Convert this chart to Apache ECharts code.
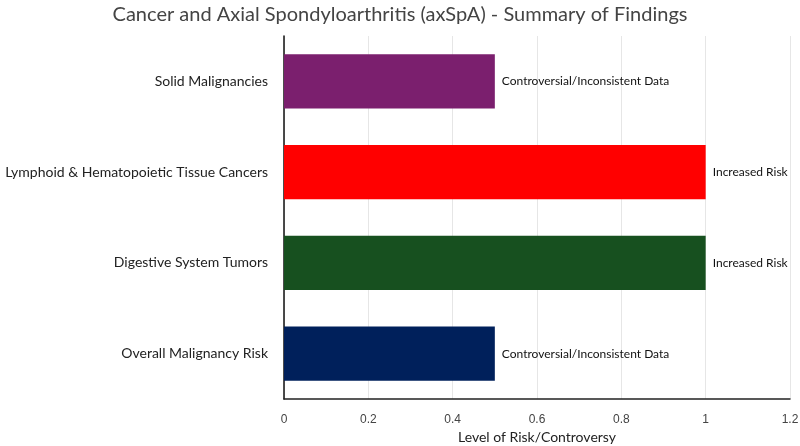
<!DOCTYPE html>
<html><head><meta charset="utf-8">
<script src="https://cdn.jsdelivr.net/npm/echarts@6/dist/echarts.min.js"></script>
<style>html,body{margin:0;padding:0;background:#fff}#c{width:800px;height:446px}</style>
</head><body><div id="c"></div>
<script>
const categories = ["Overall Malignancy Risk", "Digestive System Tumors", "Lymphoid & Hematopoietic Tissue Cancers", "Solid Malignancies"];
const values = [0.5, 1, 1, 0.5];
const barLabels = ["Controversial/Inconsistent Data", "Increased Risk", "Increased Risk", "Controversial/Inconsistent Data"];
const barColors = ["#00205b", "#17501f", "#ff0000", "#7b1f6e"];
const xTicks = [0, 0.2, 0.4, 0.6, 0.8, 1, 1.2];

const chart = echarts.init(document.getElementById('c'), null, {renderer: 'canvas'});
chart.setOption({
  animation: false,
  backgroundColor: '#fff',
  title: {
    text: 'Cancer and Axial Spondyloarthritis (axSpA) - Summary of Findings',
    left: 'center', top: 0,
    textStyle: {fontFamily: 'Lato', fontSize: 20, fontWeight: 'normal', color: '#444'}
  },
  grid: {left: 284, right: 10, top: 36, bottom: 47, containLabel: false, outerBoundsMode: 'none'},
  xAxis: {
    type: 'value', min: 0, max: 1.2, interval: 0.2,
    name: 'Level of Risk/Controversy', nameLocation: 'middle', nameGap: 30,
    nameTextStyle: {fontFamily: 'Lato', fontSize: 14, color: '#222'},
    axisLine: {show: true, lineStyle: {color: '#222', width: 1.5}},
    axisTick: {show: false},
    axisLabel: {fontFamily: 'Liberation Sans', fontSize: 12, color: '#444', margin: 15,
      formatter: v => String(+v.toFixed(1))},
    splitLine: {show: true, lineStyle: {color: '#e6e6e6', width: 1}}
  },
  yAxis: {
    type: 'category', data: categories,
    axisLine: {show: true, lineStyle: {color: '#111', width: 1.5}},
    axisTick: {show: false},
    axisLabel: {fontFamily: 'Lato', fontSize: 14, color: '#222', margin: 16}
  },
  series: [{
    type: 'bar',
    data: values.map((v, i) => ({value: v, itemStyle: {color: barColors[i]},
      label: {formatter: barLabels[i]}})),
    barCategoryGap: '40%',
    label: {show: true, position: 'right', distance: 7, fontFamily: 'Lato', fontSize: 12, color: '#111'}
  }]
});
</script></body></html>
